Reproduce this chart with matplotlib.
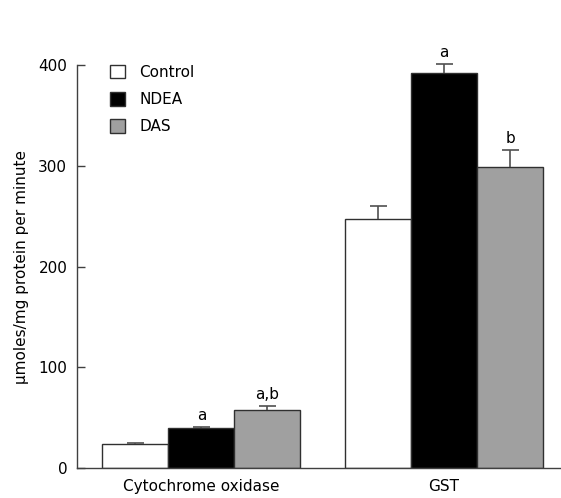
import numpy as np
import matplotlib
matplotlib.use("Agg")
import matplotlib.pyplot as plt
from matplotlib.patches import Patch

categories = ["Cytochrome oxidase", "GST"]
groups = ["Control", "NDEA", "DAS"]
control = [24, 247]
ndea = [40, 392]
das = [58, 299]
control_err = [1, 13]
ndea_err = [1, 9]
das_err = [4, 17]
control_sig = ["", ""]
ndea_sig = ["a", "a"]
das_sig = ["a,b", "b"]

colors = ["white", "black", "#a0a0a0"]
edge = "#303030"

plt.rcParams["font.family"] = ["DejaVu Sans"]

fig = plt.figure(figsize=(5.61, 4.98), dpi=100)
ax = fig.add_axes([77 / 561, 30 / 498, 484 / 561, 403 / 498])

x = np.arange(len(categories))
w = 0.272
cap = 0.035
series = [(control, control_err, control_sig),
          (ndea, ndea_err, ndea_sig),
          (das, das_err, das_sig)]
for i, (vals, errs, sigs) in enumerate(series):
    pos = x + (i - 1) * w
    vals = np.array(vals)
    errs = np.array(errs)
    ax.bar(pos, vals, width=w, color=colors[i], edgecolor=edge, linewidth=1.0,
           label=groups[i], zorder=2)
    # upper error bars only
    ax.vlines(pos, vals, vals + errs, color="#505050", linewidth=1.2, zorder=3,
              clip_on=False)
    ax.hlines(vals + errs, pos - cap, pos + cap, color="#505050", linewidth=1.2,
              zorder=3, clip_on=False)
    for p, v, e, s in zip(pos, vals, errs, sigs):
        if s:
            ax.text(p, v + e + 4, s, ha="center", va="bottom", fontsize=11)

ax.set_xlim(-0.513, 1.482)
ax.set_ylim(0, 400)
ax.set_yticks([0, 100, 200, 300, 400])
ax.set_xticks(x)
ax.set_xticklabels(categories, fontsize=11)
ax.tick_params(axis="x", length=0, pad=8)
ax.tick_params(axis="y", direction="in", length=6, width=1.0, color="#404040",
               labelsize=11, pad=7)
for side in ["top", "right"]:
    ax.spines[side].set_visible(False)
for side in ["left", "bottom"]:
    ax.spines[side].set_color("#404040")
    ax.spines[side].set_linewidth(1.0)
ax.set_ylabel("\u00b5moles/mg protein per minute", fontsize=11, labelpad=7)

handles = [Patch(facecolor=colors[i], edgecolor=edge, label=groups[i]) for i in range(3)]
ax.legend(handles=handles, loc="upper left", bbox_to_anchor=(0.04, 1.035),
          frameon=False, fontsize=11, handlelength=1.0, handleheight=1.0,
          labelspacing=0.8, handletextpad=0.9)

fig.savefig("out.png", dpi=100)
